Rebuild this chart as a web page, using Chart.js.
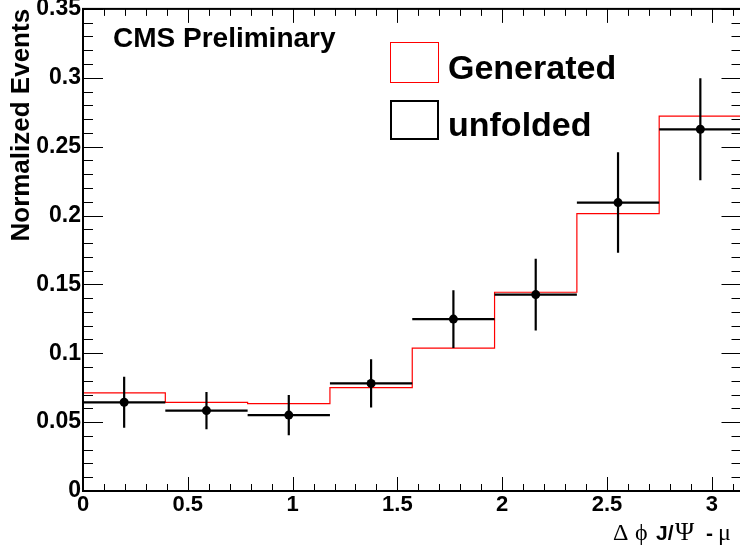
<!DOCTYPE html>
<html>
<head>
<meta charset="utf-8">
<script src="https://cdn.jsdelivr.net/npm/chart.js@4.4.0/dist/chart.umd.min.js"></script>
<style>
html, body { margin: 0; padding: 0; overflow: hidden; background: #fff; }
#wrap { width: 746px; height: 550px; }
</style>
</head>
<body>
<div id="wrap"><canvas id="c"></canvas></div>
<script>
// bin edges in delta phi (8 bins from 0 to pi)
var binEdges = [0, 0.3927, 0.7854, 1.1781, 1.5708, 1.9635, 2.3562, 2.7489, 3.1416];
var generated = [0.0712, 0.0644, 0.0635, 0.0750, 0.1037, 0.1443, 0.2013, 0.2722];
var unfolded = [0.0644, 0.0584, 0.0551, 0.0781, 0.1248, 0.1426, 0.2094, 0.2626];
var unfoldedErr = [0.0185, 0.0135, 0.0146, 0.0175, 0.0210, 0.0260, 0.0365, 0.0370];
var xTicks = [0, 0.5, 1, 1.5, 2, 2.5, 3];
var yTicks = [0, 0.05, 0.1, 0.15, 0.2, 0.25, 0.3, 0.35];

var sans = "'Liberation Sans', Arial, Helvetica, sans-serif";
var serif = "'Liberation Serif', 'Times New Roman', serif";

// step histogram: one point per left edge, plus the last edge
var genData = binEdges.map(function (x, i) {
    return { x: x, y: generated[Math.min(i, generated.length - 1)] };
});

var pointData = [];
var errData = [];
for (var i = 0; i < unfolded.length; i++) {
    var c = (binEdges[i] + binEdges[i + 1]) / 2;
    pointData.push({ x: c, y: unfolded[i] });
    errData.push({ x: binEdges[i], y: unfolded[i] }, { x: binEdges[i + 1], y: unfolded[i] }, { x: c, y: null });
    errData.push({ x: c, y: unfolded[i] - unfoldedErr[i] }, { x: c, y: unfolded[i] + unfoldedErr[i] }, { x: c, y: null });
}

// ROOT style frame with inside ticks on all four sides
var frameTicks = {
    id: 'frameTicks',
    afterDraw: function (chart) {
        var ctx = chart.ctx, a = chart.chartArea;
        var xs = chart.scales.x, ys = chart.scales.y;
        ctx.save();
        ctx.strokeStyle = '#000';
        ctx.lineWidth = 1;
        ctx.beginPath();
        for (var i = 0; i <= 31; i++) {
            var px = Math.round(xs.getPixelForValue(i / 10)) + 0.5;
            var len = (i % 5 === 0) ? 14 : 7;
            ctx.moveTo(px, a.bottom); ctx.lineTo(px, a.bottom - len);
            ctx.moveTo(px, a.top); ctx.lineTo(px, a.top + len);
        }
        for (var j = 0; j <= 35; j++) {
            var py = Math.round(ys.getPixelForValue(j / 100)) + 0.5;
            var l2 = (j % 5 === 0) ? 20 : 10;
            ctx.moveTo(a.left, py); ctx.lineTo(a.left + l2, py);
            ctx.moveTo(a.right, py); ctx.lineTo(a.right - l2, py);
        }
        ctx.stroke();
        ctx.lineWidth = 2;
        ctx.strokeRect(a.left, a.top, a.right - a.left, a.bottom - a.top);
        ctx.restore();
    }
};

// CMS label, legend and the x axis title with mixed fonts
var annotations = {
    id: 'annotations',
    afterDraw: function (chart) {
        var ctx = chart.ctx;
        var ds = chart.data.datasets;
        ctx.save();
        ctx.fillStyle = '#000';
        ctx.textBaseline = 'alphabetic';
        ctx.textAlign = 'left';
        ctx.font = 'bold 28px ' + sans;
        ctx.fillText('CMS Preliminary', 113, 47);

        // legend
        ctx.strokeStyle = ds[0].borderColor;
        ctx.lineWidth = 1;
        ctx.strokeRect(390.5, 42.5, 48, 40);
        ctx.strokeStyle = '#000';
        ctx.lineWidth = 2;
        ctx.strokeRect(391, 101, 47, 38);
        ctx.font = 'bold 34px ' + sans;
        ctx.fillText(ds[0].label, 448, 79);
        ctx.fillText(ds[2].label, 448, 136);

        // x title: Δ ϕ J/Ψ - μ
        var parts = [
            ['\u0394', serif, 'normal 24px ', 613],
            ['\u03d5', serif, 'normal 24px ', 635],
            ['J/', sans, 'bold 21px ', 656],
            ['\u03a8', serif, 'normal 26px ', 675],
            ['-', sans, 'bold 21px ', 706],
            ['\u03bc', serif, 'normal 24px ', 718]
        ];
        parts.forEach(function (p) {
            ctx.font = p[2] + p[1];
            ctx.fillText(p[0], p[3], 540);
        });
        ctx.restore();
    }
};

new Chart(document.getElementById('c'), {
    type: 'line',
    data: {
        datasets: [{
            label: 'Generated',
            data: genData,
            stepped: true,
            borderColor: '#ff0000',
            borderWidth: 1.2,
            pointRadius: 0,
            fill: false,
            order: 3
        }, {
            label: '',
            data: errData,
            borderColor: '#000',
            borderWidth: 2.2,
            borderCapStyle: 'butt',
            pointRadius: 0,
            spanGaps: false,
            fill: false,
            order: 2
        }, {
            label: 'unfolded',
            data: pointData,
            showLine: false,
            pointRadius: 4.5,
            pointBackgroundColor: '#000',
            pointBorderWidth: 0,
            borderColor: '#000',
            order: 1
        }]
    },
    options: {
        responsive: true,
        maintainAspectRatio: false,
        animation: false,
        layout: { padding: { top: 7, right: 3, left: 0, bottom: 0 } },
        plugins: {
            legend: { display: false },
            tooltip: { enabled: false }
        },
        scales: {
            x: {
                type: 'linear',
                min: 0,
                max: 3.1416,
                grid: { display: false, drawTicks: false },
                border: { display: false },
                afterBuildTicks: function (scale) {
                    scale.ticks = xTicks.map(function (v) { return { value: v }; });
                },
                afterFit: function (scale) { scale.height = 59; },
                ticks: {
                    autoSkip: false,
                    maxRotation: 0,
                    padding: 3,
                    color: '#000',
                    font: { family: sans, size: 22, weight: 'bold', lineHeight: 1 },
                    callback: function (v) { return String(v); }
                }
            },
            y: {
                min: 0,
                max: 0.35,
                grid: { display: false, drawTicks: false },
                border: { display: false },
                afterBuildTicks: function (scale) {
                    scale.ticks = yTicks.map(function (v) { return { value: v }; });
                },
                afterFit: function (scale) { scale.width = 83; },
                title: {
                    display: true,
                    text: 'Normalized Events',
                    align: 'end',
                    color: '#000',
                    font: { family: sans, size: 26, weight: 'bold', lineHeight: 1 },
                    padding: { top: 9, bottom: 0 }
                },
                ticks: {
                    padding: 2,
                    color: '#000',
                    font: { family: sans, size: 23, weight: 'bold', lineHeight: 0.6 },
                    callback: function (v) { return String(v); }
                }
            }
        }
    },
    plugins: [frameTicks, annotations]
});
</script>
</body>
</html>
